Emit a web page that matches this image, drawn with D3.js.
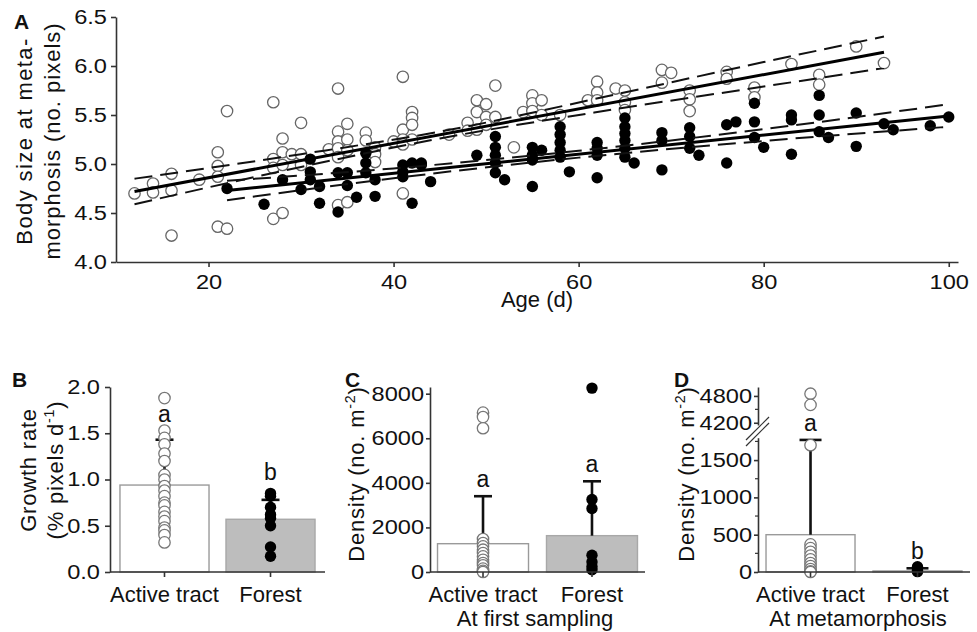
<!DOCTYPE html>
<html><head><meta charset="utf-8">
<script src="https://cdn.jsdelivr.net/npm/d3@7"></script>
<style>
body{margin:0;background:#fff;}
svg{display:block;font-family:"Liberation Sans",Arial,Helvetica,sans-serif;}
</style></head><body>
<svg id="chart" width="977" height="632"></svg>
<script>
// ---------------- DATA ----------------
// Panel A: body size at metamorphosis vs age
const activeAge  = [12,14,14,16,16,16,19,21,21,21,21,22,22,27,27,27,27,28,28,28,28,29,30,30,30,33,34,34,34,34,34,34,35,35,35,35,37,37,38,38,38,40,41,41,41,41,41,42,42,42,42,46,48,48,49,49,49,50,50,50,51,51,53,54,55,55,55,56,56,58,61,62,62,62,64,65,65,65,69,69,70,72,72,72,76,76,79,79,83,86,86,90,93];
const activeSize = [4.70,4.80,4.71,4.90,4.73,4.27,4.84,5.12,4.98,4.87,4.36,5.54,4.34,5.63,5.05,4.96,4.44,5.26,5.12,4.99,4.50,5.10,5.42,5.10,4.99,5.15,5.77,5.33,5.23,5.16,5.07,4.58,5.41,5.25,5.14,4.61,5.32,5.24,5.17,5.10,5.02,5.23,5.89,5.35,5.25,5.20,4.70,5.53,5.47,5.40,5.25,5.30,5.42,5.34,5.65,5.53,5.35,5.61,5.48,5.40,5.80,5.48,5.17,5.53,5.70,5.62,5.54,5.65,5.50,5.50,5.65,5.84,5.73,5.65,5.77,5.75,5.63,5.55,5.96,5.83,5.93,5.75,5.66,5.54,5.94,5.87,5.78,5.68,6.02,5.91,5.81,6.20,6.03];
const forestAge  = [22,26,28,30,31,31,31,32,32,34,34,35,35,36,37,37,37,38,38,41,41,41,42,42,43,43,44,49,51,51,51,51,51,52,55,55,55,55,56,58,58,58,58,58,59,62,62,62,62,65,65,65,65,65,65,66,69,69,69,72,72,72,73,76,77,76,79,79,79,80,83,83,83,86,86,86,87,90,90,93,94,98,100];
const forestSize = [4.75,4.59,4.84,4.74,5.05,4.92,4.84,4.77,4.60,4.91,4.51,4.91,4.78,4.66,5.11,5.01,4.91,4.84,4.67,4.99,4.92,4.87,5.01,4.60,5.01,4.99,4.82,5.09,5.28,5.17,5.09,5.01,4.91,4.84,5.17,5.09,5.04,4.77,5.14,5.38,5.30,5.22,5.14,5.07,4.92,5.22,5.16,5.09,4.86,5.47,5.38,5.31,5.24,5.16,5.07,5.01,5.32,5.24,4.94,5.37,5.28,5.16,5.09,5.40,5.43,5.01,5.62,5.43,5.27,5.17,5.50,5.45,5.10,5.70,5.50,5.33,5.27,5.52,5.18,5.41,5.35,5.39,5.48];
// regression fits and 95% confidence bands
const activeFitAge   = [12, 93];
const activeFit      = [4.72, 6.14];
const activeBandAge  = [12, 30, 45, 64, 80, 93];
const activeUpper    = [4.85, 5.10, 5.33, 5.71, 6.04, 6.30];
const activeLower    = [4.59, 4.97, 5.26, 5.56, 5.79, 5.98];
const forestFitAge   = [22, 100];
const forestFit      = [4.73, 5.49];
const forestBandAge  = [22, 40, 60, 80, 100];
const forestUpper    = [4.83, 4.955, 5.135, 5.355, 5.61];
const forestLower    = [4.63, 4.855, 5.065, 5.235, 5.38];
const ageTicks  = [20, 40, 60, 80, 100];
const sizeTicks = [4.0, 4.5, 5.0, 5.5, 6.0, 6.5];

// Panels B-D shared categories
const habitats = ["Active tract", "Forest"];

// Panel B: growth rate
const growthMean = [0.94, 0.57];
const growthSD   = [0.49, 0.21];
const growthActive = [1.88,1.53,1.45,1.38,1.28,1.20,1.05,1.00,0.93,0.88,0.82,0.75,0.72,0.65,0.60,0.55,0.48,0.45,0.40,0.32];
const growthForest = [0.85,0.82,0.70,0.62,0.58,0.50,0.27,0.17];
const growthLetters = ["a", "b"];
const growthTicks = [0.0, 0.5, 1.0, 1.5, 2.0];

// Panel C: density at first sampling
const firstMean = [1270, 1630];
const firstSD   = [2130, 2440];
const firstActive = [7150,6950,6450,1480,1300,1150,1000,850,700,550,400,300,150,50,0];
const firstForest = [8250,3250,2850,750,450,250,100];
const firstLetters = ["a", "a"];
const firstTicks = [0, 2000, 4000, 6000, 8000];

// Panel D: density at metamorphosis (broken axis)
const metaMean = [500, 15];
const metaSD   = [1270, 35];
const metaActive = [4850,4600,1700,370,320,270,220,170,120,80,40,10,0];
const metaForest = [70,45,20,5];
const metaLetters = ["a", "b"];
const metaTicksLow  = [0, 500, 1000, 1500];
const metaTicksHigh = [4200, 4800];
const metaMinorLow  = [250, 750, 1250, 1750];
const metaMinorHigh = [4500];

// ---------------- DRAWING ----------------
const svg = d3.select("#chart");
const AX = "#333";
const TICK_FS = 20;
const STRETCH = 1.18;

function stretch(sel, f) {
  sel.each(function () {
    const w = this.getComputedTextLength();
    d3.select(this).attr("textLength", w * f).attr("lengthAdjust", "spacingAndGlyphs");
  });
}
function styleAxis(g, fs, f) {
  g.selectAll("path.domain").attr("stroke", AX).attr("stroke-width", 1.6);
  g.selectAll(".tick line").attr("stroke", AX).attr("stroke-width", 1.6);
  const t = g.selectAll(".tick text").attr("font-size", fs).attr("fill", "#111");
  if (f) stretch(t, f);
}
function panelLabel(x, y, t) {
  svg.append("text").attr("x", x).attr("y", y).attr("font-size", 21)
     .attr("font-weight", "bold").attr("fill", "#111").text(t);
}
function rotLabel(x, y, parts, fs, ls) {
  const t = svg.append("text").attr("transform", `translate(${x},${y}) rotate(-90)`)
    .attr("text-anchor", "middle").attr("font-size", fs).attr("fill", "#111")
    .attr("letter-spacing", ls);
  parts.forEach(p => {
    const s = t.append("tspan").text(p.t);
    if (p.sup) s.attr("font-size", fs * 0.65).attr("dy", -fs * 0.4);
    if (p.after) s.attr("dy", fs * 0.4);
  });
}

// ===== Panel A =====
const xA = d3.scaleLinear().domain([10, 101]).range([116, 958]);
const yA = d3.scaleLinear().domain([4, 6.5]).range([262, 17]);
svg.append("g").attr("transform", "translate(0,262)")
  .call(d3.axisBottom(xA).tickValues(ageTicks).tickSize(5).tickSizeOuter(0).tickPadding(8))
  .call(styleAxis, TICK_FS, STRETCH);
svg.append("g").attr("transform", "translate(116,0)")
  .call(d3.axisLeft(yA).tickValues(sizeTicks).tickFormat(d3.format(".1f")).tickSize(5).tickSizeOuter(0).tickPadding(4))
  .call(styleAxis, TICK_FS, STRETCH);

const gPts = svg.append("g");
gPts.selectAll("circle.open").data(activeAge.map((a, i) => [a, activeSize[i]])).join("circle")
  .attr("class", "open").attr("cx", d => xA(d[0])).attr("cy", d => yA(d[1])).attr("r", 5.7)
  .attr("fill", "#fff").attr("stroke", "#666").attr("stroke-width", 1.3);
gPts.selectAll("circle.fill").data(forestAge.map((a, i) => [a, forestSize[i]])).join("circle")
  .attr("class", "fill").attr("cx", d => xA(d[0])).attr("cy", d => yA(d[1])).attr("r", 5.7)
  .attr("fill", "#000");

const lineA = d3.line().x(d => xA(d[0])).y(d => yA(d[1]));
const bandA = d3.line().x(d => xA(d[0])).y(d => yA(d[1])).curve(d3.curveMonotoneX);
const zipA = (xs, ys) => xs.map((x, i) => [x, ys[i]]);
[[activeBandAge, activeUpper], [activeBandAge, activeLower], [forestBandAge, forestUpper], [forestBandAge, forestLower]]
  .forEach(([xs, ys]) => svg.append("path").attr("d", bandA(zipA(xs, ys))).attr("fill", "none")
    .attr("stroke", "#111").attr("stroke-width", 2).attr("stroke-dasharray", "18,8"));
[[activeFitAge, activeFit], [forestFitAge, forestFit]]
  .forEach(([xs, ys]) => svg.append("path").attr("d", lineA(zipA(xs, ys))).attr("fill", "none")
    .attr("stroke", "#000").attr("stroke-width", 3));

svg.append("text").attr("x", 537).attr("y", 307).attr("text-anchor", "middle")
  .attr("font-size", 22).attr("fill", "#111").text("Age (d)");
rotLabel(32, 141, [{t: "Body size at meta-"}], 22, 1.4);
rotLabel(60, 141, [{t: "morphosis (no. pixels)"}], 22, 1.0);
panelLabel(14, 29, "A");

// ===== Bar panel helper =====
function barPanel(opt) {
  const x = d3.scaleBand().domain(habitats).range(opt.xr).paddingInner(opt.pi).paddingOuter(opt.po);
  const y = opt.y;
  const cx = c => x(c) + x.bandwidth() / 2;
  habitats.forEach((c, i) => {
    const y0 = opt.y0, y1 = y(opt.mean[i]);
    svg.append("rect").attr("x", x(c)).attr("width", x.bandwidth())
      .attr("y", y1).attr("height", Math.max(0.8, y0 - y1))
      .attr("fill", i === 0 ? "#fff" : "#bdbdbd").attr("stroke", i === 0 ? "#9a9a9a" : "#a8a8a8").attr("stroke-width", 1.4);
  });
  habitats.forEach((c, i) => {
    const top = y(opt.mean[i] + opt.sd[i]);
    svg.append("line").attr("x1", cx(c)).attr("x2", cx(c)).attr("y1", y(opt.mean[i])).attr("y2", top)
      .attr("stroke", "#111").attr("stroke-width", 2.6);
    svg.append("line").attr("x1", cx(c) - opt.cap).attr("x2", cx(c) + opt.cap).attr("y1", top).attr("y2", top)
      .attr("stroke", "#111").attr("stroke-width", 2.6);
    svg.append("text").attr("x", cx(c)).attr("y", top - opt.gap[i]).attr("text-anchor", "middle")
      .attr("font-size", 23).attr("fill", "#111").text(opt.letters[i]);
  });
  opt.pts[0].forEach(v => svg.append("circle").attr("cx", cx(habitats[0])).attr("cy", y(v)).attr("r", 5.7)
    .attr("fill", "#fff").attr("stroke", "#777").attr("stroke-width", 1.3));
  opt.pts[1].forEach(v => svg.append("circle").attr("cx", cx(habitats[1])).attr("cy", y(v)).attr("r", 5.7)
    .attr("fill", "#000"));
  const gx = svg.append("g").attr("transform", `translate(0,${opt.y0})`)
    .call(d3.axisBottom(x).tickSize(5).tickSizeOuter(0).tickPadding(9));
  styleAxis(gx, 22);
  gx.select("path.domain").attr("d", `M${opt.xr[0]},0H${opt.xr[1]}`);
  return x;
}

// ===== Panel B =====
const yB = d3.scaleLinear().domain([0, 2]).range([572, 387]);
barPanel({xr: [110, 325], pi: 0.16, po: 0.094, y: yB, y0: 572, mean: growthMean, sd: growthSD,
  pts: [growthActive, growthForest], cap: 9, letters: growthLetters, gap: [18, 20]});
svg.append("g").attr("transform", "translate(110,0)")
  .call(d3.axisLeft(yB).tickValues(growthTicks).tickFormat(d3.format(".1f")).tickSize(5).tickSizeOuter(0).tickPadding(5))
  .call(styleAxis, TICK_FS, STRETCH);
rotLabel(36, 470, [{t: "Growth rate"}], 22, 0.8);
rotLabel(63, 470, [{t: "(% pixels d"}, {t: "-1", sup: true}, {t: ")", after: true}], 22, 0.8);
panelLabel(12, 387, "B");

// ===== Panel C =====
const yC = d3.scaleLinear().domain([0, 8300]).range([572, 387]);
barPanel({xr: [430, 645], pi: 0.165, po: 0.069, y: yC, y0: 572, mean: firstMean, sd: firstSD,
  pts: [firstActive, firstForest], cap: 9, letters: firstLetters, gap: [9, 9]});
svg.append("g").attr("transform", "translate(430,0)")
  .call(d3.axisLeft(yC).tickValues(firstTicks).tickFormat(d3.format("d")).tickSize(4).tickSizeOuter(0).tickPadding(2))
  .call(styleAxis, TICK_FS, STRETCH);
rotLabel(364, 474, [{t: "Density (no. m"}, {t: "-2", sup: true}, {t: ")", after: true}], 22, 0.8);
svg.append("text").attr("x", 535).attr("y", 626).attr("text-anchor", "middle")
  .attr("font-size", 22).attr("fill", "#111").text("At first sampling");
panelLabel(345, 387, "C");

// ===== Panel D (broken axis) =====
const yDlow  = d3.scaleLinear().domain([0, 1800]).range([572, 437.7]);
const yDhigh = d3.scaleLinear().domain([4150, 5000]).range([425, 387]);
const yD = v => v >= 4000 ? yDhigh(v) : yDlow(v);
barPanel({xr: [758, 970], pi: 0.168, po: 0.075, y: yD, y0: 572, mean: metaMean, sd: metaSD,
  pts: [metaActive, metaForest], cap: 11, letters: metaLetters, gap: [9, 9]});
svg.append("g").attr("transform", "translate(758,0)")
  .call(d3.axisLeft(yDlow).tickValues(metaTicksLow).tickFormat(d3.format("d")).tickSize(4).tickSizeOuter(0).tickPadding(2))
  .call(styleAxis, TICK_FS, STRETCH);
svg.append("g").attr("transform", "translate(758,0)")
  .call(d3.axisLeft(yDhigh).tickValues(metaTicksHigh).tickFormat(d3.format("d")).tickSize(4).tickSizeOuter(0).tickPadding(2))
  .call(styleAxis, TICK_FS, STRETCH);
metaMinorLow.forEach(v => svg.append("line").attr("x1", 755).attr("x2", 758).attr("y1", yDlow(v)).attr("y2", yDlow(v)).attr("stroke", AX).attr("stroke-width", 1.2));
metaMinorHigh.forEach(v => svg.append("line").attr("x1", 755).attr("x2", 758).attr("y1", yDhigh(v)).attr("y2", yDhigh(v)).attr("stroke", AX).attr("stroke-width", 1.2));
[-3, 3].forEach(o => svg.append("line").attr("x1", 746).attr("y1", 443 + o).attr("x2", 769).attr("y2", 420 + o)
  .attr("stroke", AX).attr("stroke-width", 1.2));
rotLabel(694, 474, [{t: "Density (no. m"}, {t: "-2", sup: true}, {t: ")", after: true}], 22, 0.8);
svg.append("text").attr("x", 858).attr("y", 626).attr("text-anchor", "middle")
  .attr("font-size", 22).attr("fill", "#111").text("At metamorphosis");
panelLabel(674, 387, "D");
</script>
</body></html>
